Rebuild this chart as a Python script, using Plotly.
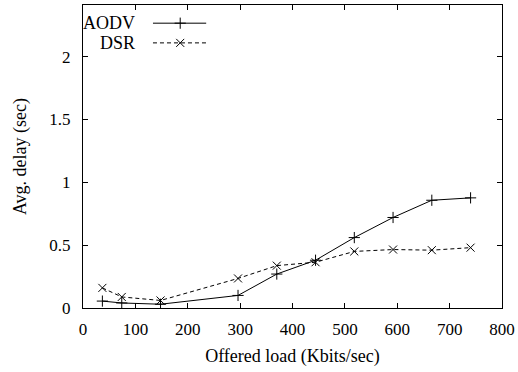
import plotly.graph_objects as go

load = [37, 74, 148, 296, 370, 444, 518, 592, 666, 740]
aodv = [0.055, 0.04, 0.03, 0.10, 0.27, 0.38, 0.56, 0.72, 0.857, 0.876]
dsr = [0.16, 0.088, 0.06, 0.235, 0.337, 0.364, 0.45, 0.465, 0.46, 0.48]
series_names = ["AODV", "DSR"]
x_ticks = [0, 100, 200, 300, 400, 500, 600, 700, 800]
y_ticks = [0, 0.5, 1, 1.5, 2]

FONT = "Liberation Serif"
fig = go.Figure()
fig.add_trace(go.Scatter(x=load, y=aodv, mode="lines+markers", name="AODV",
                         line=dict(color="black", width=1),
                         marker=dict(symbol="cross-thin-open", size=8, color="black",
                                     line=dict(color="black", width=1)),
                         showlegend=False))
fig.add_trace(go.Scatter(x=load, y=dsr, mode="lines+markers", name="DSR",
                         line=dict(color="black", width=1, dash="4px,3px"),
                         marker=dict(symbol="x-thin-open", size=8, color="black",
                                     line=dict(color="black", width=1)),
                         showlegend=False))

# gnuplot-style key: label on the left, line sample on the right
leg_styles = [dict(dash="solid", symbol="cross-thin-open"), dict(dash="4px,3px", symbol="x-thin-open")]
leg_y = [0.94, 0.875]
for name, st, yy in zip(series_names, leg_styles, leg_y):
    fig.add_trace(go.Scatter(x=[0.167, 0.232, 0.294], y=[yy, yy, yy], mode="lines",
                             line=dict(color="black", width=1, dash=st["dash"]),
                             xaxis="x2", yaxis="y2", showlegend=False, hoverinfo="skip"))
    fig.add_trace(go.Scatter(x=[0.232], y=[yy], mode="markers",
                             marker=dict(symbol=st["symbol"], size=8, color="black",
                                         line=dict(color="black", width=1)),
                             xaxis="x2", yaxis="y2", showlegend=False, hoverinfo="skip"))
    fig.add_annotation(x=0.13, y=yy, xref="x2", yref="y2", text=name, showarrow=False,
                       xanchor="right", yanchor="middle", font=dict(family=FONT, size=18, color="black"))

fig.update_layout(
    width=518, height=372,
    margin=dict(l=83, r=16, t=5, b=64, autoexpand=False),
    paper_bgcolor="white", plot_bgcolor="white",
    font=dict(family=FONT, size=16, color="black"),
    xaxis=dict(range=[0, 800], tickmode="array", tickvals=x_ticks, ticktext=[str(v) for v in x_ticks],
               ticks="inside", ticklen=5, tickcolor="black",
               showline=True, linecolor="black", linewidth=1, mirror="ticks", showgrid=False,
               zeroline=False, ticklabelstandoff=6,
               tickfont=dict(family=FONT, size=17, color="black"),
               title=dict(text="Offered load (Kbits/sec)", standoff=10,
                          font=dict(family=FONT, size=18, color="black"))),
    yaxis=dict(range=[0, 2.41], tickmode="array", tickvals=y_ticks, ticktext=["0", "0.5", "1", "1.5", "2"],
               ticks="inside", ticklen=5, tickcolor="black",
               showline=True, linecolor="black", linewidth=1, mirror="ticks", showgrid=False,
               zeroline=False, ticklabelstandoff=8,
               tickfont=dict(family=FONT, size=17, color="black"),
               title=dict(text="Avg. delay (sec)", standoff=18,
                          font=dict(family=FONT, size=18, color="black"))),
    xaxis2=dict(range=[0, 1], overlaying="x", visible=False),
    yaxis2=dict(range=[0, 1], overlaying="y", visible=False),
)
fig.write_html("out.html")
